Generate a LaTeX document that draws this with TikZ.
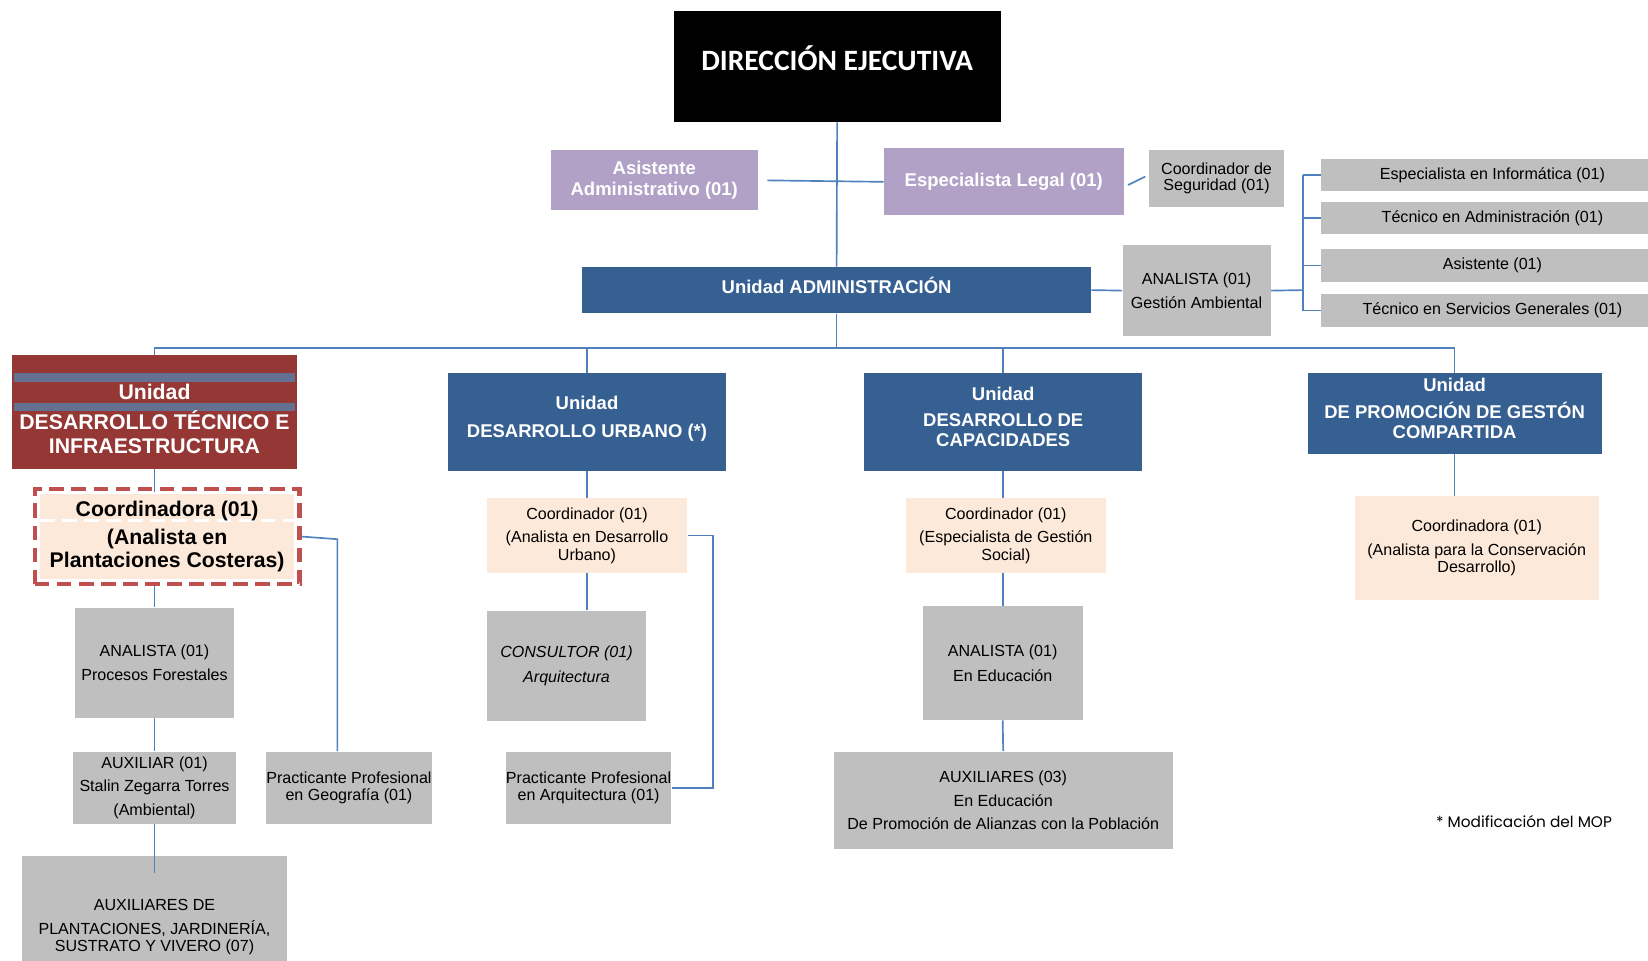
\documentclass[tikz,border=0pt]{standalone}
\usepackage{fontspec}
\setmainfont{Liberation Sans}
\newfontfamily\calib{Carlito}
\newfontfamily\gothic{Poppins}
\usetikzlibrary{calc}

\definecolor{azul}{HTML}{366092}
\definecolor{lila}{HTML}{B2A1C7}
\definecolor{gris}{HTML}{BFBFBF}
\definecolor{durazno}{HTML}{FDE9D9}
\definecolor{linea}{HTML}{4F81BD}
\definecolor{vino}{HTML}{953735}
\definecolor{rojo}{HTML}{C0504D}
\definecolor{franja}{HTML}{647091}

\tikzset{
  caja/.style={inner sep=0pt, align=center, font=\fontsize{8.7}{9.6}\selectfont},
  cgris/.style={caja, fill=gris},
  cdur/.style={caja, fill=durazno},
  cazul/.style={caja, fill=azul, text=white, text depth=0.2cm, font=\bfseries\fontsize{10}{11.4}\selectfont},
  clila/.style={caja, fill=lila, text=white, font=\bfseries\fontsize{10}{11.4}\selectfont},
  rtxt/.style={inner sep=0pt, align=center, text=white, font=\bfseries\fontsize{11.5}{13}\selectfont},
  enlace/.style={draw=linea, line width=0.9pt}
}

\begin{document}
\begin{tikzpicture}[x=0.02cm, y=-0.02cm]
\useasboundingbox (0,0) rectangle (1568,914);

\node[fill=black, text=white, minimum width=6.22cm, minimum height=2.12cm, text depth=0.32cm,
      font=\calib\bfseries\fontsize{16}{18}\selectfont] (dir) at (796.5,63) {DIRECCIÓN EJECUTIVA};
\node[clila, minimum width=3.94cm, minimum height=1.14cm] (asis) at (622.5,171.5) {Asistente\\Administrativo (01)};
\node[clila, minimum width=4.56cm, minimum height=1.28cm] (legal) at (955,173) {Especialista Legal (01)};
\node[cgris, minimum width=2.58cm, minimum height=1.08cm] (seg) at (1157.5,170) {Coordinador de\\[-1pt]Seguridad (01)};
\node[cazul, minimum width=9.68cm, minimum height=0.88cm] (adm) at (796,276) {Unidad ADMINISTRACIÓN};
\node[cgris, minimum width=2.82cm, minimum height=1.74cm] (amb) at (1138.5,276.5) {ANALISTA (01)\\[3.5pt]Gestión Ambiental};

\coordinate (brk) at (1240,276);
\foreach \i/\yy/\txt in {1/166.5/Especialista en Informática (01), 2/207.5/Técnico en Administración (01),
                         3/252.5/Asistente (01), 4/295.5/Técnico en Servicios Generales (01)} {
  \node[cgris, minimum width=6.52cm, minimum height=0.62cm] (r\i) at (1420,\yy) {\txt};
  \draw[enlace] (brk |- r\i.west) -- (r\i.west);
}
\draw[enlace] (brk |- r1.west) -- (brk |- r4.west);
\draw[enlace] (amb.east) -- (brk);

\draw[enlace] (dir.south) -- (adm.north);
\draw[enlace, shorten <=5pt] (asis.east) -- (legal.west);
\draw[enlace] ([shift={(4,3)}]legal.east) -- ([shift={(-3,-2)}]seg.west);
\draw[enlace] (adm.east) -- (amb.west);

% unidades
\node[fill=vino, minimum width=5.44cm, minimum height=2.16cm, inner sep=0pt, path picture={
  \fill[franja] ([shift={(2,17)}]path picture bounding box.north west) rectangle ([shift={(-2,25)}]path picture bounding box.north east);
  \fill[franja] ([shift={(2,45)}]path picture bounding box.north west) rectangle ([shift={(-2,53)}]path picture bounding box.north east);
}] (dt) at (147,392) {};
\node[rtxt] (dtA) at (147,373) {Unidad};
\node[rtxt] (dtB) at (147,411.5) {DESARROLLO TÉCNICO E\\INFRAESTRUCTURA};
\node[cazul, minimum width=5.30cm, minimum height=1.86cm] (du) at (558.5,401.5) {Unidad\\[4pt]DESARROLLO URBANO (*)};
\node[cazul, minimum width=5.30cm, minimum height=1.86cm] (dc) at (954.5,401.5) {Unidad\\[3pt]DESARROLLO DE\\[-0.6pt]CAPACIDADES};
\node[cazul, minimum width=5.60cm, minimum height=1.54cm] (pgc) at (1384,393.5) {Unidad\\[2.8pt]DE PROMOCIÓN DE GESTÓN\\[-0.6pt]COMPARTIDA};

\coordinate (bus) at (796,331);
\draw[enlace] (adm.south) -- (bus);
\draw[enlace] (dt.north) |- (bus) -| (pgc.north);
\draw[enlace] (du.north) -- (du.north |- bus);
\draw[enlace] (dc.north) -- (dc.north |- bus);

% desarrollo tecnico
\node[draw=rojo, line width=2.3pt, dash pattern=on 0.28cm off 0.14cm, fill=white,
      minimum width=5.04cm, minimum height=1.82cm, inner sep=0pt, align=center,
      font=\bfseries\fontsize{11.5}{13}\selectfont, path picture={
  \fill[durazno] ([shift={(5,5)}]path picture bounding box.north west) rectangle ([shift={(-5,-5)}]path picture bounding box.south east);
  \draw[white, line width=1.5pt] ([shift={(5,30)}]path picture bounding box.north west) -- ([shift={(-5,30)}]path picture bounding box.north east);
}] (cdt) at (159,510.5) {Coordinadora (01)\\[2.3pt](Analista en\\[-0.5pt]Plantaciones Costeras)};
\node[cgris, minimum width=3.04cm, minimum height=2.10cm] (apf) at (147,630.5) {ANALISTA (01)\\[3.5pt]Procesos Forestales};
\node[cgris, minimum width=3.12cm, minimum height=1.38cm] (aux) at (147,749.5) {AUXILIAR (01)\\[3.2pt]Stalin Zegarra Torres\\[3.2pt](Ambiental)};
\node[cgris, minimum width=5.04cm, minimum height=2.72cm] (auxs) at (147,882) {AUXILIARES DE\\[3.5pt]PLANTACIONES, JARDINERÍA,\\SUSTRATO Y VIVERO (07)};
\node[cgris, minimum width=3.12cm, minimum height=1.38cm] (geo) at (332,749.5) {Practicante Profesional\\en Geografía (01)};

\draw[enlace] (dt.south) -- ([yshift=-0.1cm]dt.south |- cdt.north);
\draw[enlace] (apf.north |- cdt.south) -- (apf.north);
\draw[enlace] (apf.south) -- (aux.north);
\draw[enlace] (aux.south) -- ([yshift=-0.34cm]auxs.north);
\coordinate (geok) at (321,513);
\draw[enlace] (cdt.east) -- (geok) -- (geok |- geo.north);

% desarrollo urbano
\node[cdur, minimum width=3.82cm, minimum height=1.42cm] (cdu) at (558.5,509.5) {Coordinador (01)\\[3pt](Analista en Desarrollo\\Urbano)};
\node[cgris, minimum width=3.04cm, minimum height=2.10cm, font=\itshape\fontsize{8.7}{9.6}\selectfont] (cons) at (539,633.5) {CONSULTOR (01)\\[3.5pt]Arquitectura};
\node[cgris, minimum width=3.12cm, minimum height=1.38cm] (parq) at (560,749.5) {Practicante Profesional\\en Arquitectura (01)};

\draw[enlace] (du.south) -- (cdu.north);
\draw[enlace] (cdu.south) -- (cdu.south |- cons.north);
\draw[enlace] (cdu.east) -- ++(24,0) |- (parq.east);

% capacidades
\node[cdur, minimum width=3.80cm, minimum height=1.42cm] (cdc) at (957,509.5) {Coordinador (01)\\[3pt](Especialista de Gestión\\Social)};
\node[cgris, minimum width=3.04cm, minimum height=2.16cm] (aed) at (954,631) {ANALISTA (01)\\[3.5pt]En Educación};
\node[cgris, minimum width=6.46cm, minimum height=1.86cm] (axed) at (954.5,761.5) {AUXILIARES (03)\\[3.2pt]En Educación\\[3.2pt]De Promoción de Alianzas con la Población};

\draw[enlace] (dc.south) -- (dc.south |- cdc.north);
\draw[enlace] (aed.north |- cdc.south) -- (aed.north);
\draw[enlace] (aed.south) -- (axed.north);

% gestion compartida
\node[cdur, minimum width=4.64cm, minimum height=1.98cm] (cpgc) at (1405,521.5) {Coordinadora (01)\\[3pt](Analista para la Conservación\\Desarrollo)};
\draw[enlace] (pgc.south) -- (pgc.south |- cpgc.north);

\node[font=\gothic\fontsize{8.3}{10}\selectfont] (nota) at (1450,782) {* Modificación del MOP};
\end{tikzpicture}
\end{document}
